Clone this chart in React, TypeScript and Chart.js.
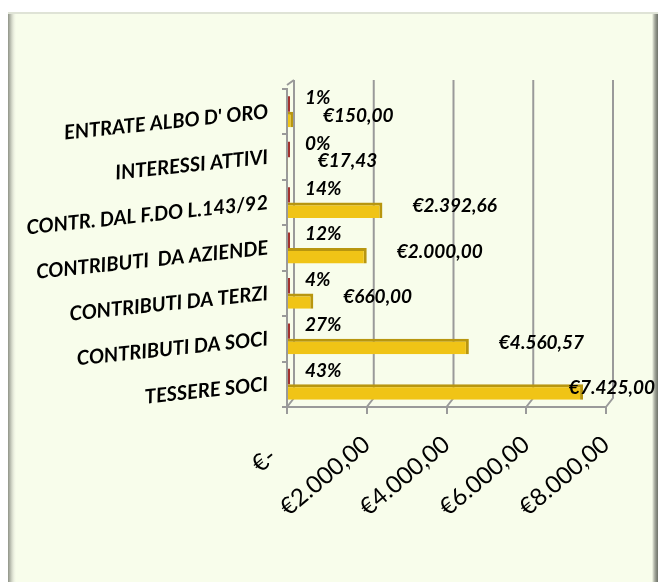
import React, { useEffect, useRef } from "react";
import { Chart, registerables } from "chart.js";

Chart.register(...registerables);

const categories = [
  "ENTRATE ALBO D' ORO",
  "INTERESSI ATTIVI",
  "CONTR. DAL F.DO L.143/92",
  "CONTRIBUTI  DA AZIENDE",
  "CONTRIBUTI DA TERZI",
  "CONTRIBUTI DA SOCI",
  "TESSERE SOCI",
];
const shares = [0.01, 0.0, 0.14, 0.12, 0.04, 0.27, 0.43];
const amounts = [150.0, 17.43, 2392.66, 2000.0, 660.0, 4560.57, 7425.0];
const xTicks = [0, 2000, 4000, 6000, 8000];

function euro(v: number): string {
  const [i, d] = Math.abs(v).toFixed(2).split(".");
  const ip = i.replace(/\B(?=(\d{3})+(?!\d))/g, ".");
  return "€" + ip + "," + d;
}

const FONT = "Lato, 'Open Sans', sans-serif";

const wallPlugin = {
  id: "wall3d",
  beforeDatasetsDraw(chart: any) {
    const { ctx, chartArea } = chart;
    const xs = chart.scales.x;
    const dx = 7;
    const dy = 9;
    ctx.save();
    ctx.strokeStyle = "#9a9a9a";
    ctx.lineWidth = 2;
    xTicks.forEach((v) => {
      const px = xs.getPixelForValue(v);
      ctx.beginPath();
      ctx.moveTo(px + dx, chartArea.top - dy);
      ctx.lineTo(px + dx, chartArea.bottom - dy);
      ctx.lineTo(px, chartArea.bottom);
      ctx.stroke();
    });
    ctx.beginPath();
    ctx.moveTo(chartArea.left, chartArea.top - 4);
    ctx.lineTo(chartArea.left + dx, chartArea.top - dy);
    ctx.stroke();
    ctx.restore();
  },
};

const labelPlugin = {
  id: "valueLabels",
  afterDatasetsDraw(chart: any) {
    const { ctx } = chart;
    ctx.save();
    ctx.fillStyle = "#000";
    ctx.textAlign = "left";
    ctx.textBaseline = "middle";
    const m0 = chart.getDatasetMeta(0);
    ctx.font = `italic bold 19px ${FONT}`;
    m0.data.forEach((el: any, i: number) => {
      const t = Math.round(shares[i] * 100) + "%";
      ctx.fillText(t, el.x + 15, el.y - 6);
    });
    const m1 = chart.getDatasetMeta(1);
    ctx.font = `italic bold 19px ${FONT}`;
    m1.data.forEach((el: any, i: number) => {
      const t = euro(amounts[i]);
      const w = ctx.measureText(t).width;
      const x = Math.min(el.x + 30, chart.width - w - 3);
      ctx.fillText(t, x, el.y - 4);
    });
    ctx.restore();
  },
};

export default function App() {
  const ref = useRef<HTMLCanvasElement>(null);
  useEffect(() => {
    if (!ref.current) return;
    const chart = new Chart(ref.current, {
      type: "bar",
      data: {
        labels: categories,
        datasets: [
          {
            label: "%",
            data: shares,
            backgroundColor: "#a3322f",
            borderWidth: 0,
            minBarLength: 3,
            categoryPercentage: 0.68,
            barPercentage: 1,
          },
          {
            label: "€",
            data: amounts,
            backgroundColor: "#f0c416",
            borderColor: "#b8960f",
            borderWidth: { top: 3, right: 3, bottom: 0, left: 0 },
            borderSkipped: false,
            categoryPercentage: 0.68,
            barPercentage: 1,
          },
        ],
      },
      options: {
        indexAxis: "y",
        animation: false,
        responsive: false,
        layout: { padding: { top: 77, left: 9, right: 52, bottom: 0 } },
        plugins: {
          legend: { display: false },
          tooltip: { enabled: false },
        },
        scales: {
          x: {
            min: 0,
            max: 8000,
            afterFit: (s: any) => {
              s.height = 173;
            },
            afterBuildTicks: (s: any) => {
              s.ticks = xTicks.map((v) => ({ value: v }));
            },
            ticks: {
              minRotation: 40,
              maxRotation: 40,
              padding: 16,
              color: "#000",
              font: { family: FONT, size: 24 },
              callback: (v: any) => (Number(v) === 0 ? "€-   " : euro(Number(v))),
            },
            grid: {
              drawOnChartArea: false,
              drawTicks: true,
              tickLength: 7,
              color: "#9a9a9a",
              lineWidth: 2,
            },
            border: { display: true, color: "#9a9a9a", width: 2 },
          },
          y: {
            afterFit: (s: any) => {
              s.width = 270;
            },
            ticks: {
              minRotation: 6,
              maxRotation: 6,
              padding: 14,
              color: "#000",
              font: { family: FONT, size: 20, style: "italic", weight: "bold" },
            },
            grid: {
              drawOnChartArea: false,
              drawTicks: true,
              tickLength: 5,
              color: "#9a9a9a",
              lineWidth: 2,
            },
            border: { display: true, color: "#9a9a9a", width: 2 },
          },
        },
      },
      plugins: [wallPlugin, labelPlugin],
    } as any);
    return () => chart.destroy();
  }, []);

  return (
    <div
      style={{
        position: "absolute",
        left: 8,
        top: 12,
        width: 650,
        height: 570,
        boxSizing: "border-box",
        borderTop: "2px solid #dfe3d6",
        background:
          "linear-gradient(to right, #8f9387 0px, #b3b7aa 2px, #d6dacb 4px, #eef2e2 6px, rgba(248,253,235,0) 8px), linear-gradient(to left, #6f736a 0px, #8d9186 2px, #b9bdb0 4px, rgba(248,253,235,0) 6px), #f8fdeb",
      }}
    >
      <canvas
        ref={ref}
        width={650}
        height={568}
        style={{ position: "absolute", left: 0, top: -2, width: 650, height: 568 }}
      />
    </div>
  );
}
